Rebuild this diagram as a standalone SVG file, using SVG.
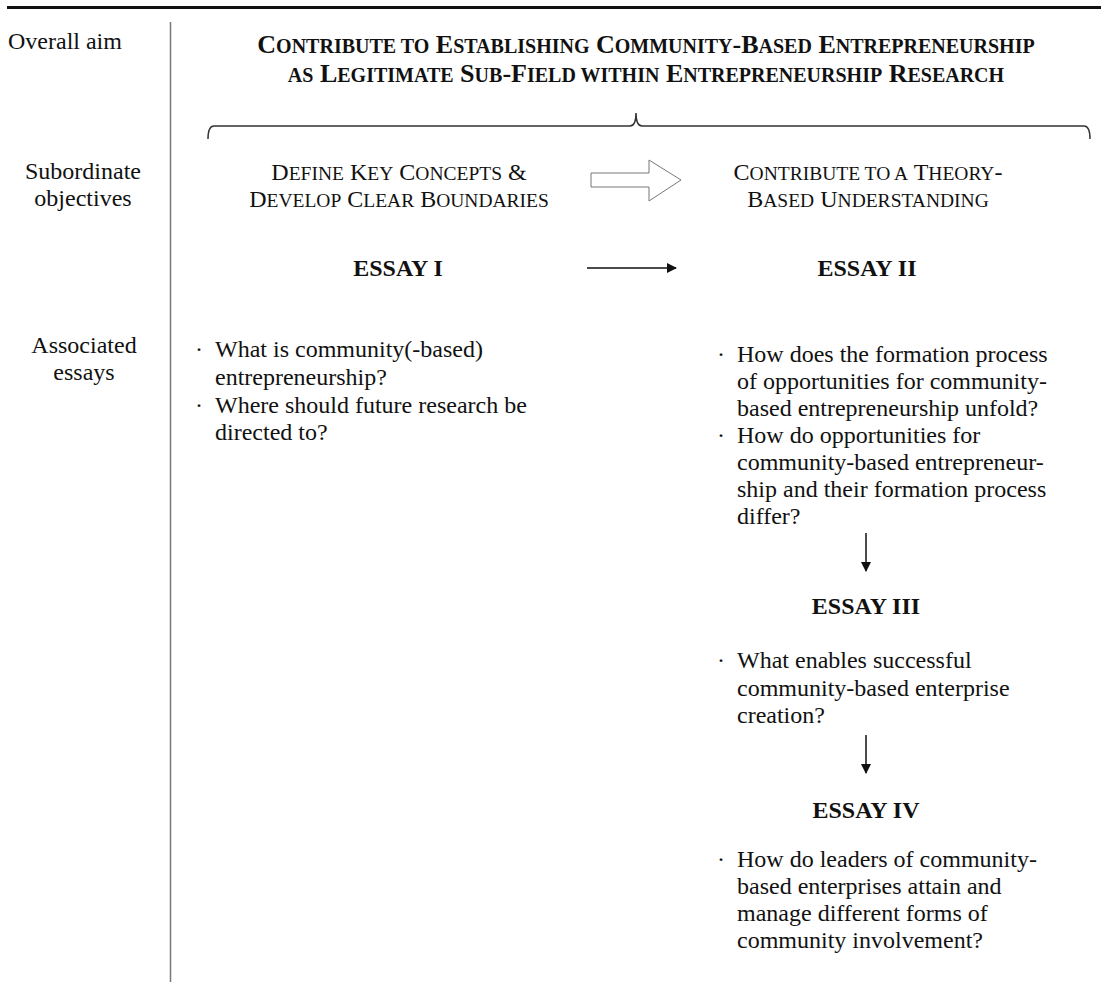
<svg xmlns="http://www.w3.org/2000/svg" width="1101" height="990" viewBox="0 0 1101 990">
<style>
text{font-family:"Liberation Serif","Times New Roman",serif;fill:#111;font-size:24px}
.b{font-weight:bold}
.c{text-anchor:middle}
.s{font-size:19.5px}
.ts{font-size:20px}
.tc{font-size:26px}
</style>
<defs>
<marker id="ah" viewBox="0 0 10 10" refX="9" refY="5" markerWidth="11" markerHeight="10" markerUnits="userSpaceOnUse" orient="auto"><path d="M0,0 L10,5 L0,10 Z" fill="#111"/></marker>
</defs>
<rect width="1101" height="990" fill="#fff"/>
<g id="frame">
<line x1="7" y1="7.5" x2="1101" y2="7.5" stroke="#111" stroke-width="3"/>
<line x1="170.5" y1="22" x2="170.5" y2="982" stroke="#777" stroke-width="1.5"/>
</g>
<g id="row-labels">
<text x="8" y="49">Overall aim</text>
<text class="c" x="83" y="179">Subordinate</text>
<text class="c" x="83" y="206">objectives</text>
<text class="c" x="84" y="353">Associated</text>
<text class="c" x="84" y="380">essays</text>
</g>
<g id="aim">
<text class="b c tc" x="646" y="53">C<tspan class="ts">ONTRIBUTE TO</tspan> E<tspan class="ts">STABLISHING</tspan> C<tspan class="ts">OMMUNITY</tspan>-B<tspan class="ts">ASED</tspan> E<tspan class="ts">NTREPRENEURSHIP</tspan></text>
<text class="b c tc" x="646" y="82"><tspan class="ts">AS</tspan> L<tspan class="ts">EGITIMATE</tspan> S<tspan class="ts">UB</tspan>-F<tspan class="ts">IELD WITHIN</tspan> E<tspan class="ts">NTREPRENEURSHIP</tspan> R<tspan class="ts">ESEARCH</tspan></text>
</g>
<g id="brace">
<path d="M208,139 Q208,126 214,126 L630,126 Q636,126 636,113 Q636,126 642,126 L1084,126 Q1090,126 1090,139" fill="none" stroke="#333" stroke-width="1.5"/>
</g>
<g id="objective-1">
<text class="c" x="399" y="180">D<tspan class="s">EFINE</tspan> K<tspan class="s">EY</tspan> C<tspan class="s">ONCEPTS</tspan> &amp;</text>
<text class="c" x="399" y="207">D<tspan class="s">EVELOP</tspan> C<tspan class="s">LEAR</tspan> B<tspan class="s">OUNDARIES</tspan></text>
</g>
<g id="objective-2">
<text class="c" x="868" y="180">C<tspan class="s">ONTRIBUTE TO A</tspan> T<tspan class="s">HEORY</tspan>-</text>
<text class="c" x="868" y="207">B<tspan class="s">ASED</tspan> U<tspan class="s">NDERSTANDING</tspan></text>
</g>
<g id="essay-1">
<text class="b c" x="398" y="276">ESSAY I</text>
<text x="195" y="357">·</text><text x="215" y="357">What is community(-based)</text>
<text x="215" y="385">entrepreneurship?</text>
<text x="195" y="413">·</text><text x="215" y="413">Where should future research be</text>
<text x="215" y="440">directed to?</text>
</g>
<g id="essay-2">
<text class="b c" x="867" y="276">ESSAY II</text>
<text x="717" y="362">·</text><text x="737" y="362">How does the formation process</text>
<text x="737" y="389">of opportunities for community-</text>
<text x="737" y="416">based entrepreneurship unfold?</text>
<text x="717" y="443">·</text><text x="737" y="443">How do opportunities for</text>
<text x="737" y="470">community-based entrepreneur-</text>
<text x="737" y="497">ship and their formation process</text>
<text x="737" y="524">differ?</text>
</g>
<g id="essay-3">
<text class="b c" x="866" y="614">ESSAY III</text>
<text x="717" y="668">·</text><text x="737" y="668">What enables successful</text>
<text x="737" y="696">community-based enterprise</text>
<text x="737" y="723">creation?</text>
</g>
<g id="essay-4">
<text class="b c" x="866" y="818">ESSAY IV</text>
<text x="717" y="867">·</text><text x="737" y="867">How do leaders of community-</text>
<text x="737" y="894">based enterprises attain and</text>
<text x="737" y="921">manage different forms of</text>
<text x="737" y="948">community involvement?</text>
</g>
<g id="connectors">
<polygon points="591,173 649,173 649,160 681,180 649,201 649,187 591,187" fill="#fff" stroke="#777" stroke-width="1"/>
<line x1="587" y1="268" x2="676" y2="268" stroke="#111" stroke-width="1.5" marker-end="url(#ah)"/>
<line x1="866" y1="533" x2="866" y2="571" stroke="#111" stroke-width="1.5" marker-end="url(#ah)"/>
<line x1="866" y1="735" x2="866" y2="773" stroke="#111" stroke-width="1.5" marker-end="url(#ah)"/>
</g>
</svg>
